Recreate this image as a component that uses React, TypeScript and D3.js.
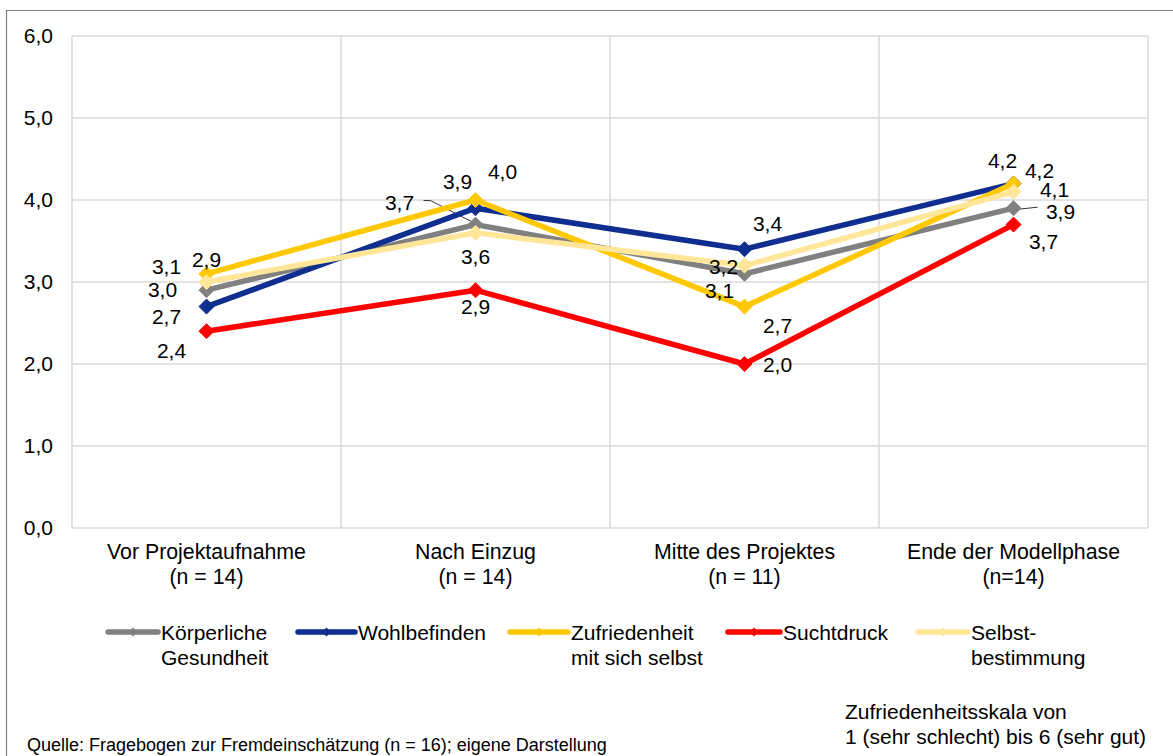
import React from "react";
import * as d3 from "d3";

const categories = ["Vor Projektaufnahme", "Nach Einzug", "Mitte des Projektes", "Ende der Modellphase"];
const categorySub = ["(n = 14)", "(n = 14)", "(n = 11)", "(n=14)"];
const seriesNames = ["Körperliche Gesundheit", "Wohlbefinden", "Zufriedenheit mit sich selbst", "Suchtdruck", "Selbstbestimmung"];
const legendLines = [["Körperliche", "Gesundheit"], ["Wohlbefinden"], ["Zufriedenheit", "mit sich selbst"], ["Suchtdruck"], ["Selbst-", "bestimmung"]];
const koerper = [2.9, 3.7, 3.1, 3.9];
const wohl = [2.7, 3.9, 3.4, 4.2];
const zufrieden = [3.1, 4.0, 2.7, 4.2];
const sucht = [2.4, 2.9, 2.0, 3.7];
const selbst = [3.0, 3.6, 3.2, 4.1];
const yTicks = [0, 1, 2, 3, 4, 5, 6];

const seriesValues = [koerper, wohl, zufrieden, sucht, selbst];
const colors = ["#808080", "#0F2E8F", "#FFC800", "#FF0000", "#FFE699"];

// label offsets (px) relative to each point: [dx, dy]
const labelOffsets: number[][][] = [
  [[0, -31], [-76, -22], [-25, 17], [47, 3]],
  [[-40, 10], [-18, -27], [23, -26], [-11, -23]],
  [[-40, -7], [27, -28], [33, 19], [26, -13]],
  [[-35, 19], [0, 16], [33, 1], [30, 17]],
  [[-44, 8], [0, 24], [-21, 1], [41, -2]],
];
const legendX = [108, 298, 510, 728, 918];
const legendLineLen = [50, 57, 58, 52, 50];

const W = 1173, H = 756;
const plot = { left: 72, right: 1148, top: 36, bottom: 528 };

export default function App() {
  const x = d3.scaleBand<number>().domain(d3.range(categories.length)).range([plot.left, plot.right]);
  const y = d3.scaleLinear().domain([0, 6]).range([plot.bottom, plot.top]);
  const cx = (i: number) => (x(i) as number) + x.bandwidth() / 2;
  const line = d3.line<number>().x((_, i) => cx(i)).y((v) => y(v));
  const fmt = (v: number) => d3.format(".1f")(v).replace(".", ",");
  const font = "'Liberation Sans', Arial, sans-serif";
  const diamond = (s: number) => `M0,${-s}L${s},0L0,${s}L${-s},0Z`;

  return (
    <svg width={W} height={H} style={{ position: "fixed", left: 0, top: 0, background: "#fff" }} fontFamily={font}>
      <rect x={0} y={0} width={W} height={H} fill="#fff" />
      <path d={`M6.5,${H}V10.5H${W}`} fill="none" stroke="#808080" strokeWidth={1.2} />
      {/* gridlines */}
      {yTicks.map((t) => (
        <line key={"h" + t} x1={plot.left} x2={plot.right} y1={y(t)} y2={y(t)} stroke="#D9D9D9" strokeWidth={1.5} />
      ))}
      {d3.range(categories.length + 1).map((i) => {
        const xx = i < categories.length ? (x(i) as number) : plot.right;
        return <line key={"v" + i} x1={xx} x2={xx} y1={plot.top} y2={plot.bottom} stroke="#D9D9D9" strokeWidth={1.5} />;
      })}
      {/* y tick labels */}
      {yTicks.map((t) => (
        <text key={"t" + t} x={53} y={y(t)} dy="0.35em" textAnchor="end" fontSize={21} fill="#000">
          {fmt(t)}
        </text>
      ))}
      {/* category labels */}
      {categories.map((c, i) => (
        <text key={"c" + i} x={cx(i)} textAnchor="middle" fontSize={21.3} fill="#000">
          <tspan x={cx(i)} y={559}>{c}</tspan>
          <tspan x={cx(i)} y={584}>{categorySub[i]}</tspan>
        </text>
      ))}
      {/* leader lines */}
      <polyline
        points={`${cx(1) - 52},${y(koerper[1]) - 24} ${cx(1) - 45},${y(koerper[1]) - 24} ${cx(1)},${y(koerper[1]) - 1}`}
        fill="none" stroke="#000" strokeWidth={0.8}
      />
      <line x1={cx(3) + 5} y1={y(koerper[3]) + 1} x2={cx(3) + 24} y2={y(koerper[3]) - 1} stroke="#000" strokeWidth={0.8} />
      {/* series */}
      {seriesValues.map((vals, s) => (
        <g key={"s" + s}>
          <path d={line(vals) as string} fill="none" stroke={colors[s]} strokeWidth={5.5} strokeLinejoin="round" />
          {vals.map((v, i) => (
            <path key={i} d={diamond(7.5)} transform={`translate(${cx(i)},${y(v)})`} fill={colors[s]} stroke={colors[s]} />
          ))}
        </g>
      ))}
      {/* data labels */}
      {seriesValues.map((vals, s) =>
        vals.map((v, i) => (
          <text key={`l${s}-${i}`} x={cx(i) + labelOffsets[s][i][0]} y={y(v) + labelOffsets[s][i][1]} dy="0.35em" textAnchor="middle" fontSize={21} fill="#000">
            {fmt(v)}
          </text>
        ))
      )}
      {/* legend */}
      {seriesNames.map((n, s) => (
        <g key={"lg" + s} aria-label={n}>
          <line x1={legendX[s]} x2={legendX[s] + legendLineLen[s]} y1={632} y2={632} stroke={colors[s]} strokeWidth={5.5} strokeLinecap="round" />
          <path d={diamond(4.5)} transform={`translate(${legendX[s] + legendLineLen[s] / 2},632)`} fill={colors[s]} />
          <text fontSize={21} fill="#000">
            {legendLines[s].map((l, k) => (
              <tspan key={k} x={legendX[s] + legendLineLen[s] + 3} y={639.5 + k * 25}>{l}</tspan>
            ))}
          </text>
        </g>
      ))}
      {/* footer */}
      <text x={27} y={751} fontSize={18} fill="#000">Quelle: Fragebogen zur Fremdeinschätzung (n = 16); eigene Darstellung</text>
      <text fontSize={21} fill="#000">
        <tspan x={845} y={719}>Zufriedenheitsskala von</tspan>
        <tspan x={845} y={744}>1 (sehr schlecht) bis 6 (sehr gut)</tspan>
      </text>
    </svg>
  );
}
